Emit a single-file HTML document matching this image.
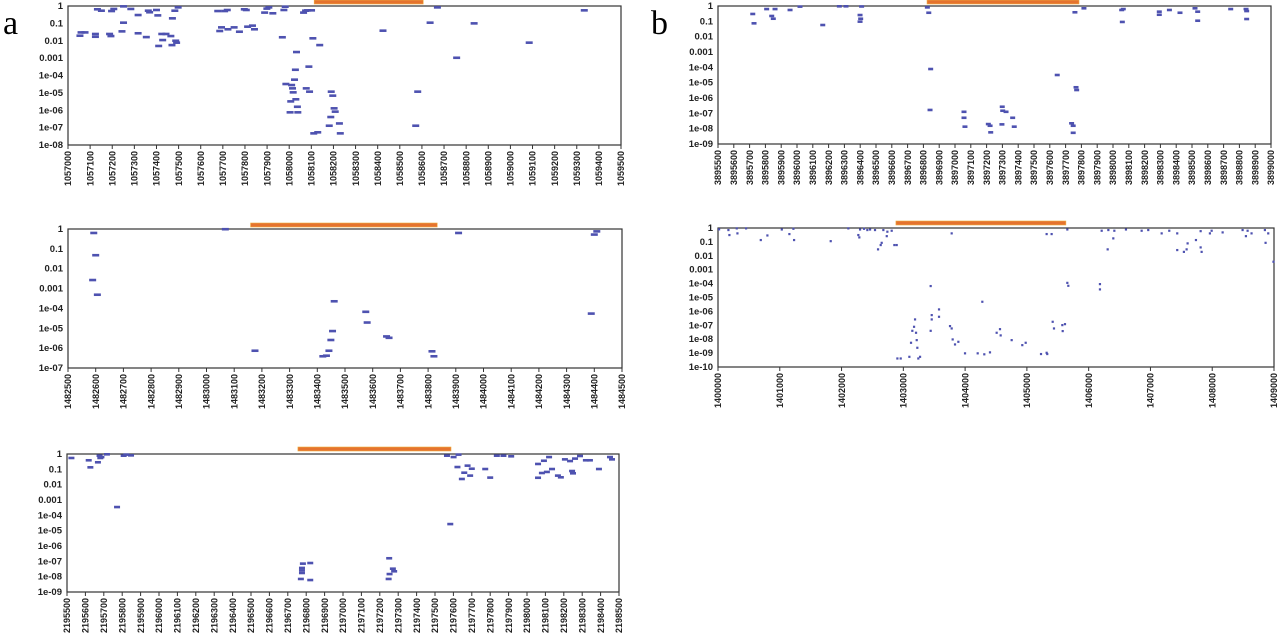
<!DOCTYPE html>
<html><head><meta charset="utf-8">
<style>
html,body{margin:0;padding:0;background:#fff;}
svg{display:block;}
text{font-family:"Liberation Sans",sans-serif;font-weight:bold;fill:#222;}
</style></head>
<body>
<svg id="fig" width="1280" height="635" viewBox="0 0 1280 635" xmlns="http://www.w3.org/2000/svg">
<text x="3" y="34" style="font-family:'Liberation Serif',serif;font-weight:normal;font-size:34px;fill:#000">a</text>
<text x="651" y="34" style="font-family:'Liberation Serif',serif;font-weight:normal;font-size:34px;fill:#000">b</text>
</svg>
<script>
// ---- data (positions in bp, values as log10 p-value exponents) ----
const a1Pos=[1057059,1057054,1057077,1057124,1057124,1057133,1057151,1057188,1057194,1057197,1057207,1057244,1057251,1057251,1057284,1057317,1057317,1057354,1057363,1057369,1057400,1057406,1057410,1057424,1057428,1057443,1057465,1057470,1057472,1057483,1057487,1057491,1057498,1057677,1057686,1057694,1057708,1057720,1057723,1057751,1057775,1057797,1057806,1057812,1057834,1057843,1057889,1057899,1057908,1057926,1057969,1057976,1057982,1057985,1058011,1058015,1058018,1058007,1058004,1058030,1058033,1058028,1058024,1058039,1058037,1058065,1058074,1058083,1058092,1058089,1058101,1058107,1058111,1058129,1058138,1058077,1058190,1058197,1058203,1058208,1058188,1058181,1058227,1058231,1058424,1058572,1058581,1058637,1058670,1058757,1058836,1059085,1059334];
const a1Exp=[-1.52,-1.71,-1.52,-1.61,-1.77,-0.19,-0.27,-1.61,-1.73,-0.29,-0.17,-1.46,-0.96,-0.02,-0.17,-0.52,-1.57,-1.79,-0.27,-0.36,-0.23,-0.54,-2.30,-1.61,-1.96,-1.61,-1.73,-2.25,-0.71,-0.27,-2.00,-2.11,-0.08,-0.29,-1.44,-1.23,-0.29,-0.23,-1.34,-1.23,-1.48,-0.19,-0.23,-1.19,-1.13,-1.34,-0.38,-0.15,-0.08,-0.42,-1.80,-0.23,-0.04,-4.49,-4.55,-4.74,-4.97,-5.49,-6.12,-5.37,-2.65,-3.67,-4.24,-6.12,-5.80,-0.38,-0.27,-0.25,-4.93,-3.49,-0.25,-1.86,-7.33,-7.27,-2.25,-4.74,-4.93,-5.16,-5.89,-6.08,-6.39,-6.89,-6.76,-7.33,-1.42,-6.89,-4.93,-0.96,-0.08,-2.98,-1.00,-2.11,-0.25];

const a2Pos=[1482593,1482600,1482589,1482606,1483068,1483175,1483420,1483433,1483442,1483449,1483455,1483461,1483575,1483580,1483650,1483659,1483814,1483821,1483910,1484389,1484400,1484409];
const a2Exp=[-0.20,-1.32,-2.57,-3.31,-0.01,-6.13,-6.41,-6.38,-6.13,-5.59,-5.14,-3.64,-4.17,-4.71,-5.41,-5.48,-6.16,-6.41,-0.20,-4.26,-0.28,-0.12];

const a3Pos=[2195524,2195618,2195627,2195668,2195677,2195681,2195687,2195717,2195772,2195808,2195822,2195848,2196782,2196777,2196777,2196777,2196771,2196822,2196822,2197251,2197271,2197278,2197253,2197248,2197583,2197565,2197601,2197628,2197622,2197659,2197646,2197677,2197691,2197700,2197773,2197800,2197836,2197872,2197914,2198060,2198092,2198120,2198081,2198108,2198136,2198060,2198168,2198184,2198206,2198234,2198245,2198250,2198261,2198288,2198320,2198342,2198391,2198451,2198462];
const a3Exp=[-0.26,-0.41,-0.87,-0.54,-0.11,-0.26,-0.20,-0.02,-3.46,-0.11,-0.04,-0.09,-7.15,-7.43,-7.59,-7.76,-8.15,-7.11,-8.22,-6.80,-7.48,-7.65,-7.83,-8.15,-4.57,-0.11,-0.20,-0.04,-0.85,-1.22,-1.63,-0.76,-1.41,-0.96,-0.98,-1.54,-0.11,-0.11,-0.15,-0.65,-0.44,-0.20,-1.24,-1.17,-0.98,-1.55,-1.41,-1.52,-0.35,-0.46,-1.11,-1.26,-0.30,-0.13,-0.41,-0.41,-0.98,-0.20,-0.35];

const b1Pos=[3895720,3895728,3895808,3895840,3895850,3895861,3895956,3896019,3896163,3896268,3896310,3896399,3896403,3896399,3896409,3896825,3896834,3896846,3896842,3897759,3897816,3897647,3897766,3897770,3897057,3897057,3897063,3897211,3897222,3897226,3897299,3897302,3897323,3897297,3897365,3897375,3897738,3897748,3897748,3898055,3898059,3898065,3898293,3898293,3898357,3898424,3898519,3898536,3898536,3898745,3898842,3898846,3898846];
const b1Exp=[-0.52,-1.13,-0.20,-0.65,-0.83,-0.20,-0.26,-0.04,-1.24,-0.02,-0.02,-0.59,-0.83,-1.02,-0.03,-0.09,-0.44,-4.11,-6.78,-0.41,-0.15,-4.50,-5.30,-5.48,-6.90,-7.29,-7.87,-7.70,-7.81,-8.24,-6.57,-6.83,-6.90,-7.72,-7.29,-7.87,-7.65,-7.81,-8.27,-0.26,-1.04,-0.20,-0.37,-0.57,-0.26,-0.44,-0.15,-0.37,-0.96,-0.20,-0.20,-0.33,-0.85];

const b2Pos=[1400016,1400167,1400183,1400302,1400313,1400453,1400691,1400798,1401031,1401154,1401219,1401230,1401823,1402108,1402270,1402286,1402298,1402362,1402416,1402460,1402540,1402589,1402632,1402648,1402675,1402730,1402740,1402810,1402853,1402891,1402902,1402956,1403096,1403123,1403144,1403172,1403188,1403204,1403215,1403225,1403241,1403269,1403441,1403458,1403458,1403441,1403576,1403576,1403754,1403781,1403797,1403835,1403781,1403889,1403997,1404202,1404309,1404401,1404277,1404509,1404563,1404574,1404752,1404924,1404979,1405227,1405318,1405328,1405416,1405437,1405572,1405615,1405578,1405653,1405669,1405318,1405399,1405653,1406181,1406181,1406209,1406306,1406317,1406397,1406414,1406602,1406856,1406963,1407180,1407303,1407432,1407432,1407540,1407584,1407600,1407735,1407811,1407811,1407827,1407961,1407989,1408167,1408490,1408544,1408571,1408635,1408851,1408862,1408905,1408990];
const b2Exp=[-0.09,-0.14,-0.50,-0.02,-0.38,-0.02,-0.86,-0.53,-0.10,-0.43,-0.05,-0.86,-0.94,-0.02,-0.50,-0.67,-0.10,-0.05,-0.14,-0.10,-0.14,-1.53,-1.22,-1.06,-0.14,-0.58,-0.26,-0.19,-1.22,-1.22,-9.38,-9.38,-9.26,-8.25,-7.39,-7.10,-6.57,-7.53,-8.06,-8.61,-9.38,-9.26,-4.17,-6.26,-6.57,-7.39,-5.85,-6.38,-7.05,-7.22,-8.01,-8.37,-0.38,-8.18,-9.01,-9.01,-9.08,-8.94,-5.30,-7.53,-7.27,-7.72,-8.06,-8.42,-8.25,-9.06,-8.97,-9.06,-6.74,-7.22,-6.98,-6.91,-7.41,-3.94,-4.15,-0.43,-0.43,-0.10,-4.03,-4.41,-0.19,-1.53,-0.14,-0.74,-0.19,-0.10,-0.19,-0.14,-0.38,-0.19,-0.38,-1.58,-1.71,-1.53,-1.10,-0.86,-0.22,-1.39,-1.71,-0.38,-0.19,-0.31,-0.14,-0.58,-0.19,-0.38,-0.14,-1.06,-0.38,-2.42];

// highlighted regions [start, end]
const a1Region=[1058113,1058606];
const a2Region=[1483159,1483833];
const a3Region=[2196755,2197587];
const b1Region=[3896823,3897785];
const b2Region=[1402880,1405631];

// ---- rendering ----
const NS='http://www.w3.org/2000/svg';
const svg=document.getElementById('fig');
function mk(tag,attrs,parent){const e=document.createElementNS(NS,tag);for(const k in attrs)e.setAttribute(k,attrs[k]);(parent||svg).appendChild(e);return e;}
function yLabel(k){if(k===0)return '1';if(k<=3)return (Math.pow(10,-k)).toFixed(k);return '1e-'+(k<10?'0'+k:k);}

const panels=[
 {id:'a1',pos:a1Pos,exp:a1Exp,reg:a1Region,x0:68,x1:621,y0:6,y1:145,xmin:1057000,xmax:1059500,step:100,dec:8,regY:0,mark:'dash',dw:7},
 {id:'a2',pos:a2Pos,exp:a2Exp,reg:a2Region,x0:68,x1:622,y0:229,y1:368,xmin:1482500,xmax:1484500,step:100,dec:7,regY:223,mark:'dash',dw:7},
 {id:'a3',pos:a3Pos,exp:a3Exp,reg:a3Region,x0:67,x1:619,y0:454,y1:592,xmin:2195500,xmax:2198500,step:100,dec:9,regY:447,mark:'dash',dw:6},
 {id:'b1',pos:b1Pos,exp:b1Exp,reg:b1Region,x0:718,x1:1271,y0:6,y1:144,xmin:3895500,xmax:3899000,step:100,dec:9,regY:0,mark:'dash',dw:5},
 {id:'b2',pos:b2Pos,exp:b2Exp,reg:b2Region,x0:718,x1:1274,y0:228,y1:367,xmin:1400000,xmax:1409000,step:1000,dec:10,regY:221,mark:'dot',dw:2}
];

panels.forEach(p=>{
  const g=mk('g',{});
  
  
  const sx=v=>p.x0+(v-p.xmin)/(p.xmax-p.xmin)*(p.x1-p.x0);
  const sy=e=>p.y0+(-e)/p.dec*(p.y1-p.y0);
  // region bar
  const rb=mk('rect',{x:sx(p.reg[0]),y:p.regY,width:sx(p.reg[1])-sx(p.reg[0]),height:4,fill:'#e5732f',stroke:'#f0b040','stroke-width':0.6},g);
  
  
  // frame
  const fr=mk('rect',{x:p.x0,y:p.y0,width:p.x1-p.x0,height:p.y1-p.y0,fill:'none',stroke:'#333','stroke-width':1.2},g);
  
  
  // y labels
  for(let k=0;k<=p.dec;k++){
    const t=mk('text',{x:p.x0-5,y:sy(-k)+3,'text-anchor':'end','font-size':'9.5'},g);
    t.textContent=yLabel(k);
    
    
  }
  // x ticks
  for(let v=p.xmin;v<=p.xmax+0.5;v+=p.step){
    const x=sx(v);
    const tk=mk('line',{x1:x,y1:p.y1,x2:x,y2:p.y1+4,stroke:'#333','stroke-width':1},g);
    
    
    const t=mk('text',{x:0,y:0,'text-anchor':'end','font-size':'9',transform:`translate(${x+3.2},${p.y1+6}) rotate(-90)`},g);
    t.textContent=String(v);
    
    
  }
  // marks
  for(let i=0;i<p.pos.length;i++){
    const x=sx(p.pos[i]),y=sy(p.exp[i]);
    let m;
    if(p.mark==='dash') m=mk('rect',{x:x-p.dw/2,y:y-1.3,width:p.dw,height:2.6,fill:'#4e52b0'},g);
    else m=mk('rect',{x:x-1,y:y-1,width:2.2,height:2.2,fill:'#4e52b0'},g);
    
    
  }
});
</script>
</body></html>
